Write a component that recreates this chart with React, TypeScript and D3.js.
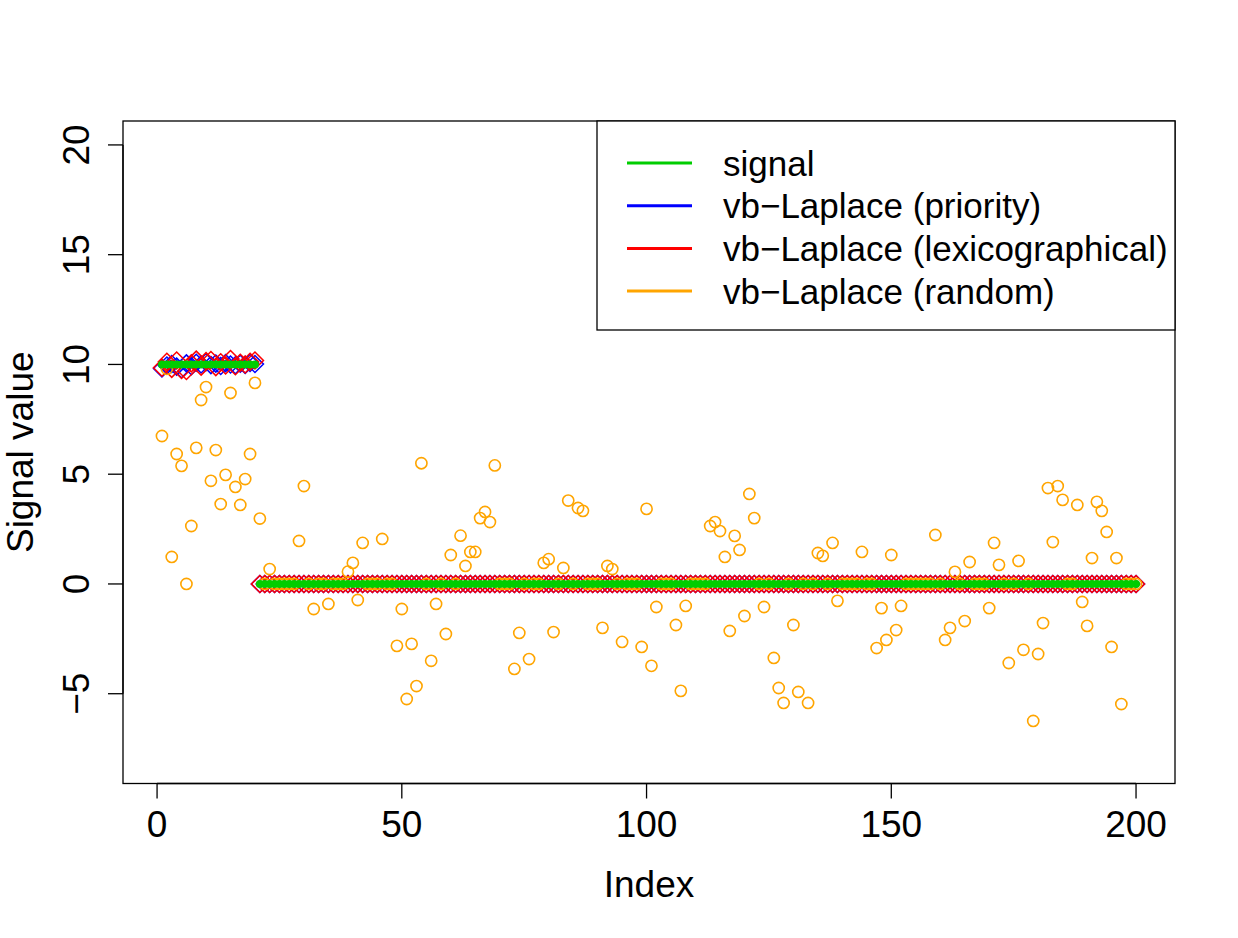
import { useEffect, useRef } from 'react';
import { select, scaleLinear, range } from 'd3';

const WIDTH = 1238;
const HEIGHT = 938;

const xTicks = [0, 50, 100, 150, 200];
const yTicks = [-5, 0, 5, 10, 15, 20];

// true signal: a block of 10s followed by zeros
const signalBlocks = [
  { from: 1, to: 20, value: 10 },
  { from: 21, to: 200, value: 0 },
];

// estimates for the first block; every later index sits at 0
const priorityHead = [
  9.82, 9.95, 10.02, 9.9, 9.78, 10.05, 9.92, 10.08, 10.0, 10.1,
  9.97, 10.04, 9.93, 10.06, 10.0, 9.96, 10.03, 9.98, 10.07, 10.02,
];
const lexicoHead = [
  9.85, 10.12, 9.8, 10.18, 9.75, 9.7, 10.05, 10.22, 9.9, 10.15,
  10.2, 9.88, 10.1, 9.95, 10.25, 9.92, 10.08, 10.0, 10.12, 10.18,
];

const randomEst = [
  6.74, 9.8, 1.23, 5.92, 5.38, 0, 2.64, 6.2, 8.38, 8.97,
  4.7, 6.1, 3.64, 4.97, 8.7, 4.42, 3.6, 4.78, 5.92, 9.16,
  2.98, 0, 0.68, 0, 0, 0, 0, 0, 1.96, 4.46,
  0, -1.14, 0, 0, -0.91, 0, 0, 0, 0.56, 0.96,
  -0.73, 1.87, 0, 0, 0, 2.05, 0, 0, -2.82, -1.14,
  -5.24, -2.73, -4.65, 5.5, 0, -3.5, -0.91, 0, -2.28, 1.32,
  0, 2.2, 0.82, 1.46, 1.46, 3.0, 3.28, 2.82, 5.4, 0,
  0, 0, -3.87, -2.23, 0, -3.42, 0, 0, 0.96, 1.13,
  -2.19, 0, 0.73, 3.8, 0, 3.46, 3.33, 0, 0, 0,
  -2.0, 0.82, 0.68, 0, -2.64, 0, 0, 0, -2.87, 3.42,
  -3.73, -1.05, 0, 0, 0, -1.87, -4.87, -1.0, 0, 0,
  0, 0, 2.64, 2.82, 2.41, 1.23, -2.14, 2.19, 1.55, -1.46,
  4.1, 3.0, 0, -1.05, 0, -3.37, -4.74, -5.42, 0, -1.87,
  -4.92, 0, -5.42, 0, 1.41, 1.28, 0, 1.87, -0.77, 0,
  0, 0, 0, 1.46, 0, 0, -2.92, -1.1, -2.55, 1.32,
  -2.1, -1.0, 0, 0, 0, 0, 0, 0, 2.23, 0,
  -2.55, -2.0, 0.55, 0, -1.69, 1.0, 0, 0, 0, -1.1,
  1.87, 0.87, 0, -3.6, 0, 1.05, -3.0, 0, -6.24, -3.19,
  -1.78, 4.37, 1.91, 4.46, 3.83, 0, 0, 3.6, -0.82, -1.91,
  1.18, 3.74, 3.33, 2.37, -2.87, 1.18, -5.47, 0, 0, 0,
];

const legendItems = [
  { label: 'signal', color: '#00cd00' },
  { label: 'vb\u2212Laplace (priority)', color: '#0000ff' },
  { label: 'vb\u2212Laplace (lexicographical)', color: '#ff0000' },
  { label: 'vb\u2212Laplace (random)', color: '#ffa500' },
];

const N = randomEst.length;
const idx = range(1, N + 1);

const signal = idx.map((i) => signalBlocks.find((b) => i >= b.from && i <= b.to)!.value);
const padHead = (head: number[]) => idx.map((i) => (i <= head.length ? head[i - 1] : 0));
const priority = padHead(priorityHead);
const lexico = padHead(lexicoHead);

const FONT = 'Liberation Sans, Arial, Helvetica, sans-serif';

const App = () => {
  const ref = useRef<SVGSVGElement>(null);

  useEffect(() => {
    const svg = select(ref.current);
    svg.selectAll('*').remove();

    const plot = { left: 123, right: 1175, top: 121, bottom: 783.5 };
    const x = scaleLinear().domain([-6.96, 207.96]).range([plot.left, plot.right]);
    const y = scaleLinear().domain([-9.09, 21.09]).range([plot.bottom, plot.top]);

    svg.append('rect').attr('width', WIDTH).attr('height', HEIGHT).attr('fill', 'white');

    const clipped = svg.append('g');

    const diamond = (d: number, i: number) => {
      const cx = x(i + 1);
      const cy = y(d);
      const r = 8.5;
      return `M${cx},${cy - r}L${cx + r},${cy}L${cx},${cy + r}L${cx - r},${cy}Z`;
    };

    // priority estimates
    clipped
      .selectAll('path.prio')
      .data(priority)
      .enter()
      .append('path')
      .attr('d', diamond)
      .attr('fill', 'none')
      .attr('stroke', '#0000ff')
      .attr('stroke-width', 1.5);

    // lexicographical estimates
    clipped
      .selectAll('path.lex')
      .data(lexico)
      .enter()
      .append('path')
      .attr('d', diamond)
      .attr('fill', 'none')
      .attr('stroke', '#ff0000')
      .attr('stroke-width', 1.5);

    // random-order estimates
    clipped
      .selectAll('circle.rand')
      .data(randomEst)
      .enter()
      .append('circle')
      .attr('cx', (_, i) => x(i + 1))
      .attr('cy', (d) => y(d))
      .attr('r', 5.6)
      .attr('fill', 'none')
      .attr('stroke', '#ffa500')
      .attr('stroke-width', 1.6);

    // signal
    clipped
      .selectAll('circle.sig')
      .data(signal)
      .enter()
      .append('circle')
      .attr('cx', (_, i) => x(i + 1))
      .attr('cy', (d) => y(d))
      .attr('r', 4)
      .attr('fill', '#00cd00');

    // plot frame
    svg
      .append('rect')
      .attr('x', plot.left)
      .attr('y', plot.top)
      .attr('width', plot.right - plot.left)
      .attr('height', plot.bottom - plot.top)
      .attr('fill', 'none')
      .attr('stroke', 'black')
      .attr('stroke-width', 1.3);

    // x axis
    const xAxis = svg.append('g');
    xAxis
      .append('line')
      .attr('x1', x(xTicks[0]))
      .attr('x2', x(xTicks[xTicks.length - 1]))
      .attr('y1', plot.bottom)
      .attr('y2', plot.bottom)
      .attr('stroke', 'black')
      .attr('stroke-width', 1.3);
    xTicks.forEach((t) => {
      xAxis
        .append('line')
        .attr('x1', x(t))
        .attr('x2', x(t))
        .attr('y1', plot.bottom)
        .attr('y2', plot.bottom + 15)
        .attr('stroke', 'black')
        .attr('stroke-width', 1.3);
      xAxis
        .append('text')
        .attr('x', x(t))
        .attr('y', 837)
        .attr('text-anchor', 'middle')
        .attr('font-family', FONT)
        .attr('font-size', 37)
        .text(t);
    });

    // y axis
    const yAxis = svg.append('g');
    yAxis
      .append('line')
      .attr('x1', plot.left)
      .attr('x2', plot.left)
      .attr('y1', y(yTicks[0]))
      .attr('y2', y(yTicks[yTicks.length - 1]))
      .attr('stroke', 'black')
      .attr('stroke-width', 1.3);
    yTicks.forEach((t) => {
      yAxis
        .append('line')
        .attr('x1', plot.left - 15)
        .attr('x2', plot.left)
        .attr('y1', y(t))
        .attr('y2', y(t))
        .attr('stroke', 'black')
        .attr('stroke-width', 1.3);
      yAxis
        .append('text')
        .attr('transform', `translate(89,${y(t)}) rotate(-90)`)
        .attr('text-anchor', 'middle')
        .attr('font-family', FONT)
        .attr('font-size', 37)
        .text(t < 0 ? `\u2212${Math.abs(t)}` : t);
    });

    // axis titles
    svg
      .append('text')
      .attr('x', (plot.left + plot.right) / 2)
      .attr('y', 897)
      .attr('text-anchor', 'middle')
      .attr('font-family', FONT)
      .attr('font-size', 37)
      .text('Index');
    svg
      .append('text')
      .attr('transform', `translate(33,${(plot.top + plot.bottom) / 2}) rotate(-90)`)
      .attr('text-anchor', 'middle')
      .attr('font-family', FONT)
      .attr('font-size', 37)
      .text('Signal value');

    // legend
    const legend = svg.append('g');
    legend
      .append('rect')
      .attr('x', 597)
      .attr('y', plot.top)
      .attr('width', plot.right - 597)
      .attr('height', 330 - plot.top)
      .attr('fill', 'white')
      .attr('stroke', 'black')
      .attr('stroke-width', 1.3);
    legendItems.forEach((item, i) => {
      const cy = 163 + i * 42.7;
      legend
        .append('line')
        .attr('x1', 627)
        .attr('x2', 692)
        .attr('y1', cy)
        .attr('y2', cy)
        .attr('stroke', item.color)
        .attr('stroke-width', 3);
      legend
        .append('text')
        .attr('x', 723)
        .attr('y', cy + 12.5)
        .attr('font-family', FONT)
        .attr('font-size', 35)
        .text(item.label);
    });
  }, []);

  return (
    <svg
      ref={ref}
      width={WIDTH}
      height={HEIGHT}
      style={{ position: 'absolute', left: 0, top: 0, display: 'block' }}
    />
  );
};

export default App;
